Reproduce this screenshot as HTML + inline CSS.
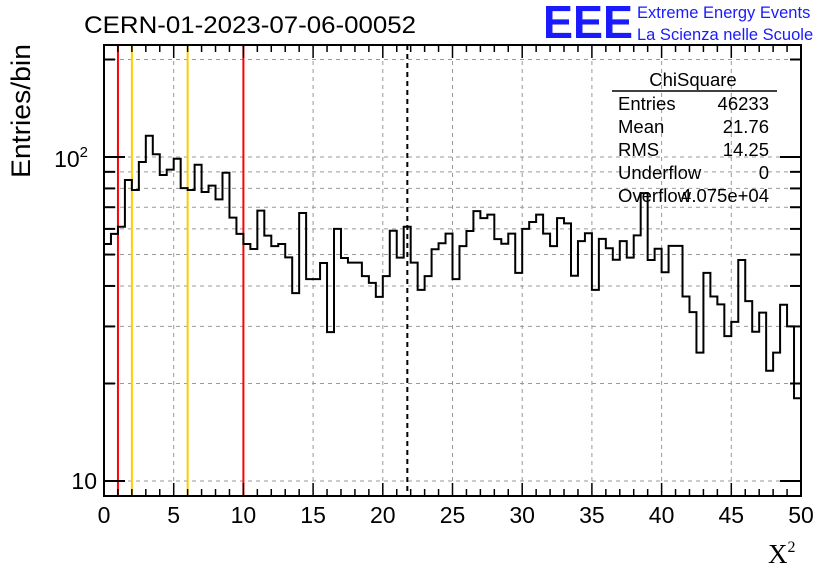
<!DOCTYPE html>
<html><head><meta charset="utf-8"><style>
body{margin:0;background:#fff;width:836px;height:572px;overflow:hidden}
svg{font-family:"Liberation Sans",sans-serif}
</style></head><body>
<svg id="chart" width="836" height="572">
<rect x="0" y="0" width="836" height="572" fill="#fff"/>
<g id="grid"></g>
<g id="vlines"></g>
<path id="hist" fill="none" stroke="#000" stroke-width="2"/>
<rect x="104" y="45" width="697" height="451" fill="none" stroke="#000" stroke-width="2"/>
<g id="ticks"></g>
<g id="labels" font-size="23"></g>
<text x="84" y="33" font-size="24" textLength="332" lengthAdjust="spacingAndGlyphs">CERN-01-2023-07-06-00052</text>
<text x="543" y="38" font-size="46" font-weight="bold" fill="#1a1aff" textLength="90" lengthAdjust="spacingAndGlyphs">EEE</text>
<text x="637" y="18" font-size="16.5" fill="#1a1aff">Extreme Energy Events</text>
<text x="637" y="40" font-size="16.5" fill="#1a1aff">La Scienza nelle Scuole</text>
<text transform="translate(30,111) rotate(-90)" text-anchor="middle" font-size="27" textLength="134" lengthAdjust="spacingAndGlyphs">Entries/bin</text>
<text x="768" y="563" font-size="27" font-family="Liberation Serif,serif">X<tspan font-size="16" dy="-11">2</tspan></text>
<g font-size="18.5">
<text x="693" y="86" text-anchor="middle">ChiSquare</text>
<line x1="612" y1="91" x2="777" y2="91" stroke="#000" stroke-width="1.5"/>
<text x="618" y="110">Entries</text><text x="769" y="110" text-anchor="end">46233</text>
<text x="618" y="133">Mean</text><text x="769" y="133" text-anchor="end">21.76</text>
<text x="618" y="156">RMS</text><text x="769" y="156" text-anchor="end">14.25</text>
<text x="618" y="179">Underflow</text><text x="769" y="179" text-anchor="end">0</text>
<text x="618" y="202">Overflow</text><text x="769" y="202" text-anchor="end">4.075e+04</text>
</g>
</svg>
<script>
const binEdges = [0, 50];
const counts = [53.9,57.9,60.9,84.9,79.1,96.5,116.3,102,88,91.4,98.8,80.2,79.1,94.7,78,81.6,74,89.4,65,57.9,
53.9,52,68.3,57.2,53.1,53.9,49,38,67.2,42,42,47.1,28.8,60,48.8,47.2,47.2,42.9,40.9,37,
42.9,59.2,48.9,60.9,47.2,38.9,42.9,51.9,54.2,58,42,53.1,59.1,68.1,64.8,66.4,55.8,54,58,43.9,
60,63,66.4,58,53.1,64.8,62.4,43,55,58.2,38.9,55.9,52.3,48.2,55,48.9,57.3,77.4,48.1,52.1,
44.1,53.2,53.2,37.1,33.2,24.9,43.9,37.1,35.1,28,31,48.1,35.9,28.9,33.1,21.9,24.9,35,30,18];
const xTicks = [0,5,10,15,20,25,30,35,40,45,50];
const yMajor = [10,100];
const yMinor = [20,30,40,50,60,70,80,90,200];
const refLinesRed = [1,10];
const refLinesOrange = [2,6];
const meanValue = [21.76];
const yRange = [8.99, 221.7];

const X0=104,X1=801,Y0=496,Y1=45;
const sx=v=>X0+(v-binEdges[0])/(binEdges[1]-binEdges[0])*(X1-X0);
const ly=Math.log10;
const sy=v=>Y0-(ly(v)-ly(yRange[0]))/(ly(yRange[1])-ly(yRange[0]))*(Y0-Y1);
const NS="http://www.w3.org/2000/svg";
function mk(tag,parent,attrs){const e=document.createElementNS(NS,tag);for(const k in attrs)e.setAttribute(k,attrs[k]);parent.appendChild(e);return e;}
const grid=document.getElementById('grid'),ticks=document.getElementById('ticks'),labels=document.getElementById('labels'),vl=document.getElementById('vlines');
xTicks.forEach(t=>{
  const g=mk('line',grid,{x1:sx(t),x2:sx(t),y1:Y1,y2:Y0,stroke:'#999','stroke-dasharray':'4,4'});
  
  
  const l=mk('text',labels,{x:sx(t),y:523,'text-anchor':'middle'});
  l.textContent=t;
  
  
});
for(let v=binEdges[0];v<=binEdges[1];v++){
  const len=v%5===0?13:7;
  mk('line',ticks,{x1:sx(v),x2:sx(v),y1:Y0,y2:Y0-len,stroke:'#000','stroke-width':1.5});
  mk('line',ticks,{x1:sx(v),x2:sx(v),y1:Y1,y2:Y1+len,stroke:'#000','stroke-width':1.5});
}
yMajor.concat(yMinor).forEach(v=>{
  const major=yMajor.includes(v);
  const g=mk('line',grid,{x1:X0,x2:X1,y1:sy(v),y2:sy(v),stroke:'#999','stroke-dasharray':'4,4'});
  
  
  const len=major?21:11;
  mk('line',ticks,{x1:X0,x2:X0+len,y1:sy(v),y2:sy(v),stroke:'#000','stroke-width':2});
  mk('line',ticks,{x1:X1,x2:X1-len,y1:sy(v),y2:sy(v),stroke:'#000','stroke-width':2});
});
const l10=mk('text',labels,{x:97,y:sy(10)+8,'text-anchor':'end'});l10.textContent='10';


const l100=mk('text',labels,{x:88,y:sy(100)+10,'text-anchor':'end'});l100.innerHTML='10<tspan font-size="15" dy="-10">2</tspan>';


refLinesRed.forEach(v=>{const e=mk('line',vl,{x1:sx(v),x2:sx(v),y1:Y1,y2:Y0,stroke:'#f00','stroke-width':2});
  
  });
refLinesOrange.forEach(v=>{const e=mk('line',vl,{x1:sx(v),x2:sx(v),y1:Y1,y2:Y0,stroke:'#ffcc00','stroke-width':2});
  
  });
meanValue.forEach(v=>{const e=mk('line',vl,{x1:sx(v),x2:sx(v),y1:Y1,y2:Y0,stroke:'#000','stroke-width':2,'stroke-dasharray':'5,4'});
  
  });
const w=(binEdges[1]-binEdges[0])/counts.length;
let d='M'+sx(binEdges[0])+','+Y0;
counts.forEach((c,i)=>{const y=sy(c);d+=' L'+sx(binEdges[0]+i*w)+','+y+' L'+sx(binEdges[0]+(i+1)*w)+','+y;});
document.getElementById('hist').setAttribute('d',d);
</script>
</body></html>
